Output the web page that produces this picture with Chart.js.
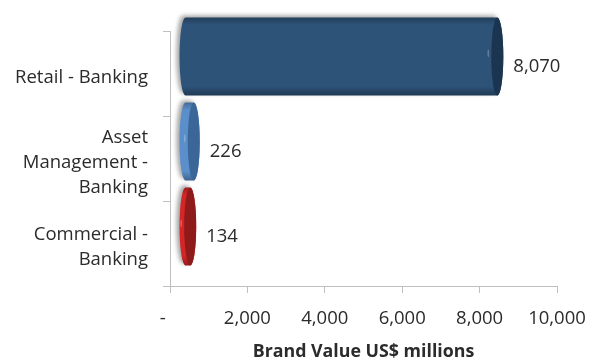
<!DOCTYPE html>
<html>
<head>
<meta charset="utf-8">
<title>Brand Value by Business</title>
<script src="https://cdn.jsdelivr.net/npm/chart.js@4.4.1/dist/chart.umd.min.js"></script>
<style>
  html, body { margin: 0; padding: 0; background: #ffffff; }
  #wrap { width: 593px; height: 361px; }
</style>
</head>
<body>
<div id="wrap"><canvas id="chart" width="593" height="361"></canvas></div>
<script>
// Business lines (multi-line labels as drawn on the axis)
const categories = [
  ['Retail - Banking'],
  ['Asset', 'Management -', 'Banking'],
  ['Commercial -', 'Banking']
];
// Brand value, US$ millions
const brandValues = [8070, 226, 134];
// Value axis ticks
const axisMin = 0;
const axisMax = 10000;
const axisStep = 2000;

// Cylinder colours per bar: body, end cap
const bodyColors = ['#2E5378', '#5B8FCB', '#D42626'];
const capColors = ['#1B344F', '#3A6798', '#8E1A1A'];

const FONT = '"Open Sans", Lato, sans-serif';
const TEXT = '#2b2b2b';
const AXIS = '#BFBFBF';

// 3-D look: depth shift of the cylinders and cap half-width
const DEPTH_X = 15;
const DEPTH_Y = -17;
const CAP_RX = 6;

function darken(hex, f) {
  const n = parseInt(hex.slice(1), 16);
  const r = Math.round(((n >> 16) & 255) * f);
  const g = Math.round(((n >> 8) & 255) * f);
  const b = Math.round((n & 255) * f);
  return `rgb(${r},${g},${b})`;
}
function shade(ctx, top, bottom, color) {
  const g = ctx.createLinearGradient(0, top, 0, bottom);
  g.addColorStop(0, darken(color, 0.75));
  g.addColorStop(0.1, color);
  g.addColorStop(0.88, color);
  g.addColorStop(1, darken(color, 0.7));
  return g;
}

const cylinderBars = {
  id: 'cylinderBars',
  afterDatasetsDraw(chart) {
    const ctx = chart.ctx;
    const meta = chart.getDatasetMeta(0);
    const values = chart.data.datasets[0].data;
    meta.data.forEach((bar, i) => {
      const p = bar.getProps(['x', 'y', 'base', 'height'], true);
      const L = p.base + DEPTH_X;
      const R = p.x + DEPTH_X;
      const cy = p.y + DEPTH_Y;
      const ry = p.height / 2;
      const rx = CAP_RX;

      ctx.save();
      // soft back shadow
      ctx.shadowColor = 'rgba(90,90,90,0.55)';
      ctx.shadowBlur = 4;
      ctx.shadowOffsetX = -3;
      ctx.shadowOffsetY = -2;
      ctx.beginPath();
      ctx.moveTo(L, cy - ry);
      ctx.lineTo(R, cy - ry);
      ctx.ellipse(R, cy, rx, ry, 0, -Math.PI / 2, Math.PI / 2);
      ctx.lineTo(L, cy + ry);
      ctx.ellipse(L, cy, rx, ry, 0, Math.PI / 2, Math.PI * 1.5);
      ctx.closePath();
      ctx.fillStyle = shade(ctx, cy - ry, cy + ry, bodyColors[i]);
      ctx.fill();
      ctx.restore();

      // end cap
      ctx.save();
      ctx.beginPath();
      ctx.ellipse(R, cy, rx, ry, 0, 0, Math.PI * 2);
      ctx.fillStyle = capColors[i];
      ctx.fill();
      // faint highlight near the cap
      ctx.beginPath();
      ctx.ellipse(R - rx - 3, cy - ry * 0.08, 0.8, ry * 0.1, 0, 0, Math.PI * 2);
      ctx.fillStyle = 'rgba(255,255,255,0.25)';
      ctx.fill();
      ctx.restore();

      // value label
      ctx.save();
      ctx.font = '18.5px ' + FONT;
      ctx.fillStyle = TEXT;
      ctx.textAlign = 'left';
      ctx.textBaseline = 'middle';
      ctx.fillText(values[i].toLocaleString('en-US'), R + rx + 10, p.y - 7);
      ctx.restore();
    });
  }
};

new Chart(document.getElementById('chart'), {
  type: 'bar',
  data: {
    labels: categories,
    datasets: [{
      data: brandValues,
      backgroundColor: 'rgba(0,0,0,0)',
      borderWidth: 0,
      categoryPercentage: 1,
      barPercentage: 0.92
    }]
  },
  options: {
    indexAxis: 'y',
    responsive: false,
    animation: false,
    layout: { padding: { top: 31, right: 36, bottom: 0, left: 0 } },
    plugins: { legend: { display: false }, tooltip: { enabled: false } },
    scales: {
      x: {
        min: axisMin,
        max: axisMax,
        afterFit: s => { s.height = 75; s.paddingRight = 0; s.paddingLeft = 0; },
        ticks: {
          stepSize: axisStep,
          padding: 15,
          color: TEXT,
          font: { family: FONT, size: 18.5 },
          maxRotation: 0,
          callback: v => (v === 0 ? '-   ' : v.toLocaleString('en-US'))
        },
        grid: { drawOnChartArea: false, drawTicks: true, tickLength: 7, color: AXIS },
        border: { color: AXIS, width: 1 },
        title: {
          display: true,
          text: 'Brand Value US$ millions',
          color: TEXT,
          font: { family: FONT, size: 17.8, weight: 'bold', lineHeight: 1 },
          padding: { top: 0, bottom: 0 }
        }
      },
      y: {
        afterFit: s => { s.width = 170; s.paddingTop = 0; s.paddingBottom = 0; },
        ticks: {
          padding: 15,
          labelOffset: 4,
          color: TEXT,
          font: { family: FONT, size: 18.5, lineHeight: 1.36 }
        },
        grid: { drawOnChartArea: false, drawTicks: true, tickLength: 7, color: AXIS },
        border: { color: AXIS, width: 1 }
      }
    }
  },
  plugins: [cylinderBars]
});
</script>
</body>
</html>
